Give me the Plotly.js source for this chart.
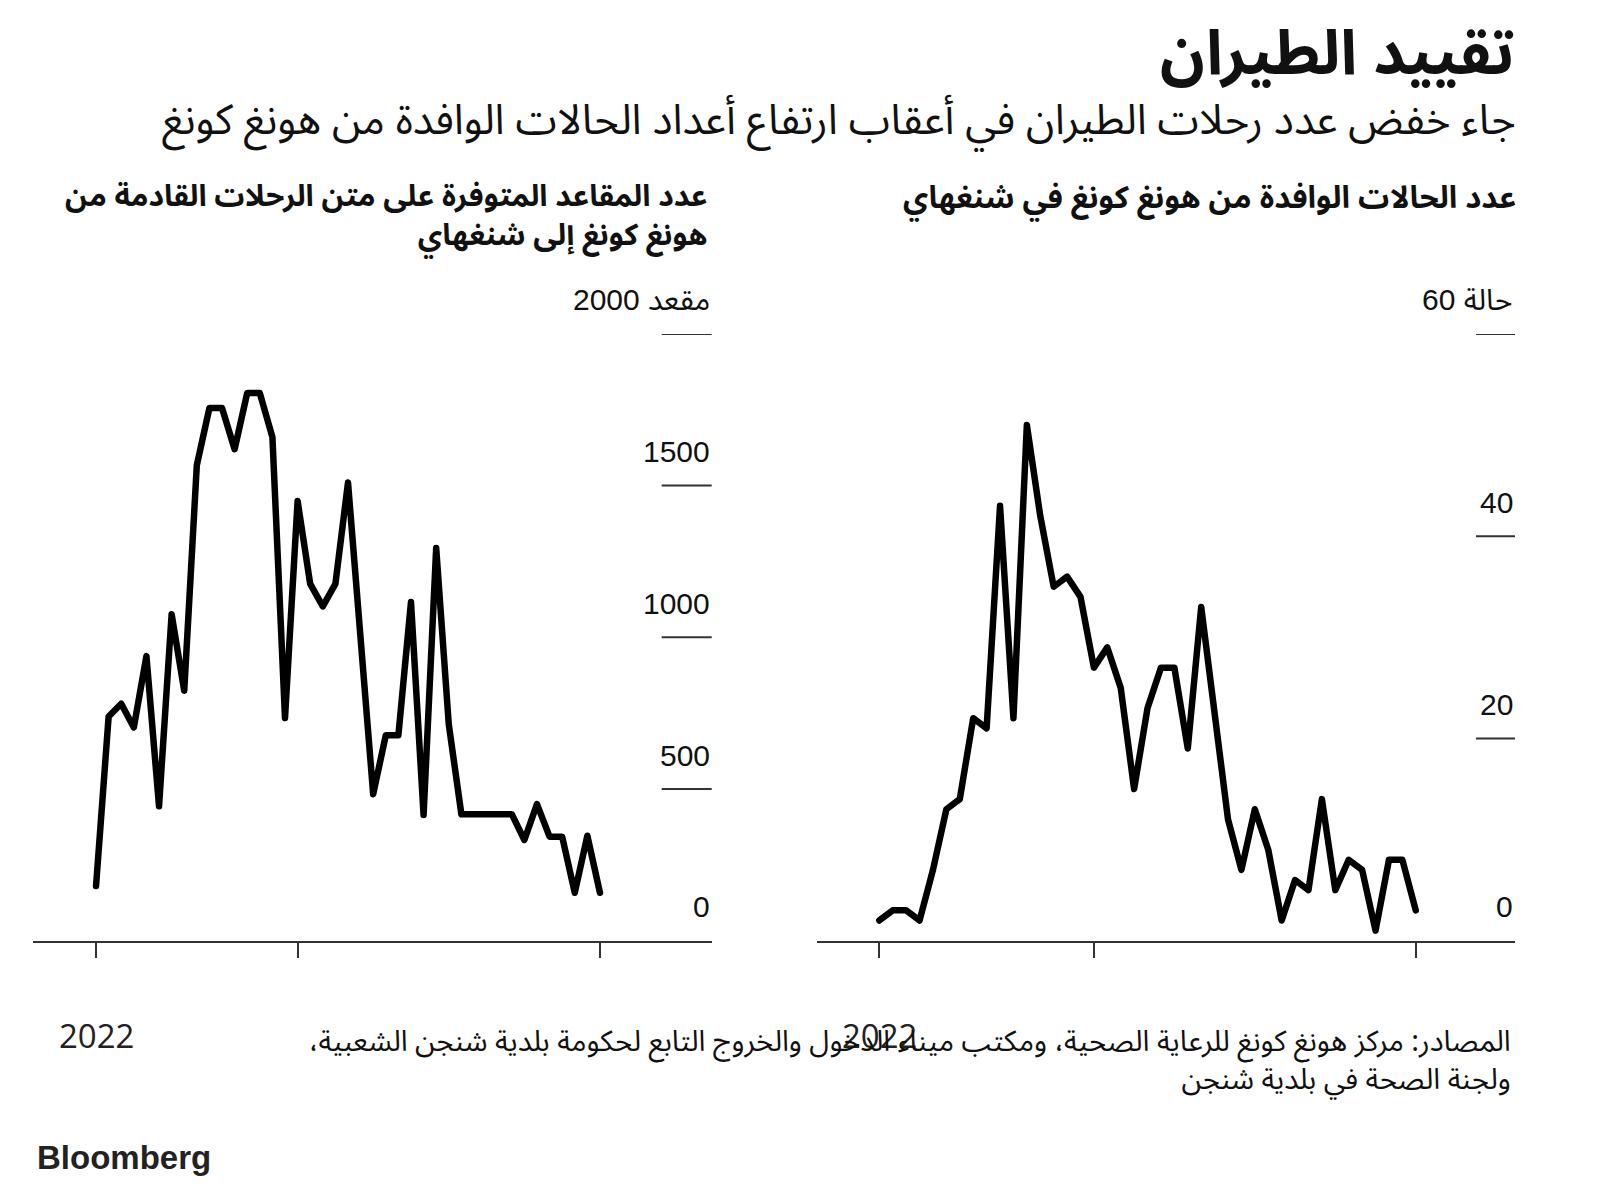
<!DOCTYPE html>
<html>
<head>
<meta charset="utf-8">
<script src="https://cdn.plot.ly/plotly-3.0.1.min.js"></script>
<style>
html,body{margin:0;padding:0;background:#fff;}
path.js-line{stroke-linejoin:round !important;stroke-linecap:round !important;}
</style>
</head>
<body>
<div id="chart" style="width:1600px;height:1189px"></div>
<script>
// ---- data ----
const days = [0,1,2,3,4,5,6,7,8,9,10,11,12,13,14,15,16,17,18,19,20,21,22,23,24,25,26,27,28,29,30,31,32,33,34,35,36,37,38,39,40];
const seats = [180,739,781,703,938,443,1076,824,1567,1756,1756,1620,1805,1805,1660,734,1449,1176,1102,1176,1510,1000,483,677,677,1116,414,1294,713,417,417,417,417,417,332,450,343,343,158,346,158];
const cases = [2,3,3,2,7,13,14,22,21,43,22,51,42,35,36,34,27,29,25,15,23,27,27,19,33,23,12,7,13,9,2,6,5,14,5,8,7,1,8,8,3];
const seatTicks = [0,500,1000,1500,2000];
const caseTicks = [0,20,40,60];
const seatUnit = 'مقعد';
const caseUnit = 'حالة';
const xTickDays = [0,16,40];
const yearLabel = '2022';

const titleText = 'تقييد الطيران';
const subtitleText = 'جاء خفض عدد رحلات الطيران في أعقاب ارتفاع أعداد الحالات الوافدة من هونغ كونغ';
const leftPanelTitle = 'عدد المقاعد المتوفرة على متن الرحلات القادمة من<br>هونغ كونغ إلى شنغهاي';
const rightPanelTitle = 'عدد الحالات الوافدة من هونغ كونغ في شنغهاي';
const sourceText = 'المصادر: مركز هونغ كونغ للرعاية الصحية، ومكتب ميناء الدخول والخروج التابع لحكومة بلدية شنجن الشعبية،\u200F<br>ولجنة الصحة في بلدية شنجن';
const brand = 'Bloomberg';

// ---- styling ----
const W = 1600, H = 1189;
const py = p => 1 - p / H;   // pixel-from-top -> paper
const px = p => p / W;
const arabic = '"Noto Sans Arabic", "Noto Naskh Arabic", "DejaVu Sans", sans-serif';
const numFont = '"Liberation Sans", Arial, sans-serif';
const ink = '#111111';
const axisCol = '#333333';

const traces = [
  {x: days, y: seats, xaxis: 'x', yaxis: 'y', type: 'scatter', mode: 'lines',
   line: {color: '#000', width: 6.5}, hoverinfo: 'skip'},
  {x: days, y: cases, xaxis: 'x2', yaxis: 'y2', type: 'scatter', mode: 'lines',
   line: {color: '#000', width: 6.5}, hoverinfo: 'skip'}
];

const xCommon = {
  showline: true, linecolor: axisCol, linewidth: 2,
  ticks: 'outside', ticklen: 15, tickwidth: 2, tickcolor: axisCol,
  tickmode: 'array', tickvals: xTickDays, showticklabels: false,
  showgrid: false, zeroline: false, fixedrange: true
};
const yCommon = {
  showline: false, showgrid: false, zeroline: false, showticklabels: false,
  ticks: '', fixedrange: true, domain: [py(940.7), py(333.9)]
};

const shapes = [];
const annotations = [];

function addPanel(xref, yref, ticks, unit, dashFrac) {
  const top = ticks[ticks.length - 1];
  ticks.forEach(v => {
    if (v > 0) {
      shapes.push({type: 'line', xref: xref + ' domain', yref: yref,
        x0: 1 - dashFrac, x1: 1, y0: v, y1: v,
        line: {color: axisCol, width: 2}});
    }
    annotations.push({xref: xref + ' domain', yref: yref, x: 1, y: v,
      xanchor: 'right', yanchor: 'middle', yshift: 34, showarrow: false,
      text: v === top ? unit + ' ' + v : String(v),
      font: {family: v === top ? numFont + ', ' + arabic : numFont, size: 30, color: ink}});
  });
}
addPanel('x', 'y', seatTicks, seatUnit, 50 / 678.4);
addPanel('x2', 'y2', caseTicks, caseUnit, 39 / 698.3);

// year labels under first tick
[['x', xTickDays[0]], ['x2', xTickDays[0]]].forEach(([xr, d]) => {
  annotations.push({xref: xr, yref: 'paper', x: d, y: py(1035), xanchor: 'center', yanchor: 'middle',
    showarrow: false, text: yearLabel, font: {family: '"Open Sans", sans-serif', size: 33, color: '#222'}});
});

annotations.push(
  {xref: 'paper', yref: 'paper', x: px(1516), y: py(55), xanchor: 'right', yanchor: 'middle', showarrow: false,
   text: '<b>' + titleText + '</b>', font: {family: arabic, size: 62, color: ink}},
  {xref: 'paper', yref: 'paper', x: px(1518), y: py(120), xanchor: 'right', yanchor: 'middle', showarrow: false,
   text: subtitleText, font: {family: arabic, size: 42, color: ink}},
  {xref: 'paper', yref: 'paper', x: px(1518), y: py(198), xanchor: 'right', yanchor: 'middle', showarrow: false,
   text: '<b>' + rightPanelTitle + '</b>', font: {family: arabic, size: 31, color: ink}},
  {xref: 'paper', yref: 'paper', x: px(710), y: py(216), xanchor: 'right', yanchor: 'middle', showarrow: false, align: 'right',
   text: '<b>' + leftPanelTitle + '</b>', font: {family: arabic, size: 30, color: ink}},
  {xref: 'paper', yref: 'paper', x: px(1513), y: py(1060), xanchor: 'right', yanchor: 'middle', showarrow: false, align: 'right',
   text: sourceText, font: {family: arabic, size: 29, color: ink}},
  {xref: 'paper', yref: 'paper', x: px(35), y: py(1157), xanchor: 'left', yanchor: 'middle', showarrow: false,
   text: '<b>' + brand + '</b>', font: {family: numFont, size: 33, color: '#222'}}
);

const layout = {
  width: W, height: H,
  margin: {l: 0, r: 0, t: 0, b: 0, pad: 0},
  paper_bgcolor: '#fff', plot_bgcolor: '#fff',
  showlegend: false,
  xaxis: Object.assign({}, xCommon, {domain: [px(33.3), px(711.7)], range: [-4.98, 48.87], anchor: 'y'}),
  yaxis: Object.assign({}, yCommon, {range: [0, 2000], anchor: 'x'}),
  xaxis2: Object.assign({}, xCommon, {domain: [px(816.7), px(1515)], range: [-4.67, 47.4], anchor: 'y2'}),
  yaxis2: Object.assign({}, yCommon, {range: [0, 60], anchor: 'x2'}),
  shapes: shapes,
  annotations: annotations
};

Plotly.newPlot('chart', traces, layout, {displayModeBar: false, staticPlot: true});
</script>
</body>
</html>
